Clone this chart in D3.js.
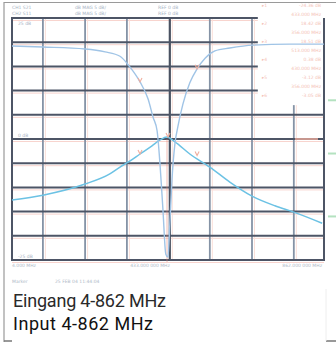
<!doctype html>
<html>
  <head>
    <script src="https://cdnjs.cloudflare.com/ajax/libs/d3/7.8.5/d3.min.js"></script>
    <style>
      body { margin: 0; background: #fff; }
      svg { display: block; }
    </style>
  </head>
  <body>
    <svg id="chart" width="336" height="344"></svg>
    <script>
        // S21 (notch) trace
        var s21Freq = [4, 89, 205, 260, 301, 328, 356, 378, 392, 403, 411, 419, 427, 433, 438, 444, 452, 460, 474, 493, 513, 535, 562, 603, 667, 768, 862];
        var s21Db   = [19.2, 19.0, 18.6, 18.0, 17.1, 14.9, 11.8, 8.3, 4.5, 1.7, -5.2, -14.5, -23.8, -24.4, -17.6, -8.3, -1.0, 2.5, 7.2, 11.6, 14.5, 16.7, 18.2, 18.8, 19.4, 19.6, 19.6];

        // S11 / peak trace
        var s11Freq = [4, 89, 205, 273, 301, 323, 356, 389, 411, 430, 452, 493, 548, 603, 664, 727, 779, 857];
        var s11Db   = [-12.6, -11.6, -9.3, -7.2, -5.8, -4.8, -3.1, -1.4, -0.2, 0.4, -0.6, -3.1, -5.8, -8.9, -11.8, -13.8, -15.1, -17.4];

        var xGridMHz = [89, 205, 320, 438, 548, 664, 779];
        var yGridDb = [20, 15, 10, 5, 0, -5, -10, -15, -20];
        var yLabels = [[25, "25 dB"], [0, "0 dB"], [-25, "-25 dB"]];
        var headerLeft = ["CH1  S21", "CH2  S11"];
        var headerMid = ["dB   MAG  5 dB/", "dB   MAG  5 dB/"];
        var headerRef = ["REF  0 dB", "REF  0 dB"];
        var freqLabels = ["4.000 MHz", "433.000 000 MHz", "862.000 000 MHz"];
        var footerLabels = ["Marker", "25 FEB 04   11:44:04"];
        var markerRows = ["-24.36 dB", "433.000 MHz", "18.42 dB", "356.000 MHz", "18.51 dB", "513.000 MHz", "0.38 dB", "430.000 MHz", "-3.12 dB", "356.000 MHz", "-3.05 dB"];
        var captionLines = ["Eingang 4-862 MHz", "Input 4-862 MHz"];

        var svg = d3.select("#chart");

        var xScale = d3.scaleLinear().domain([4, 862]).range([12, 324]);
        var yScale = d3.scaleLinear().domain([-25, 25]).range([260, 18]);

        // outer frame
        svg.append("path")
            .attr("d", "M4,342 V2.5 H336")
            .style("fill", "none").style("stroke", "#9a9a9a").style("stroke-width", 1.2);
        svg.append("line").attr("x1", 4).attr("x2", 336).attr("y1", 341).attr("y2", 341)
            .style("stroke", "#777").style("stroke-width", 1.5);

        var grid = svg.append("g");
        var tableEdge = xScale(680);

        // faint pink misregistration shadows
        grid.selectAll(".hpink").data(yGridDb.concat([25, -25])).enter().append("line")
            .attr("x1", 12).attr("x2", d => d >= 10 ? tableEdge : 324)
            .attr("y1", d => yScale(d) + 2.5).attr("y2", d => yScale(d) + 2.5)
            .style("stroke", "#f8d4ce").style("stroke-width", 1);
        grid.selectAll(".vpink").data(xGridMHz).enter().append("line")
            .attr("x1", d => xScale(d) + 2.5).attr("x2", d => xScale(d) + 2.5)
            .attr("y1", d => d > 700 ? yScale(7) : 18).attr("y2", 260)
            .style("stroke", "#fae0da").style("stroke-width", 1);

        // vertical divisions
        grid.selectAll(".vline").data(xGridMHz).enter().append("line")
            .attr("x1", d => xScale(d)).attr("x2", d => xScale(d))
            .attr("y1", d => d > 700 ? yScale(7) : 18).attr("y2", 260)
            .style("stroke", d => d === 438 ? "#4a5262" : "#8593a6")
            .style("stroke-width", d => d === 438 ? 2.2 : 1.8);

        // horizontal divisions
        grid.selectAll(".hline").data(yGridDb).enter().append("line")
            .attr("x1", 12).attr("x2", d => d >= 10 ? tableEdge : 324)
            .attr("y1", d => yScale(d)).attr("y2", d => yScale(d))
            .style("stroke", "#4d5566").style("stroke-width", 2);

        // graticule border
        grid.append("path")
            .attr("d", "M" + tableEdge + "," + yScale(25) + " H12 V" + yScale(-25) + " H324 V" + yScale(25))
            .style("fill", "none").style("stroke", "#4d5566").style("stroke-width", 2);

        // red centre line + reference mark
        svg.append("line").attr("x1", xScale(433) - 1).attr("x2", xScale(433) - 1)
            .attr("y1", yScale(0)).attr("y2", 262)
            .style("stroke", "#e88070").style("stroke-width", 1).style("opacity", 0.5);
        svg.append("line").attr("x1", 295).attr("x2", 318).attr("y1", yScale(0)).attr("y2", yScale(0))
            .style("stroke", "#f0ae9e").style("stroke-width", 1.5);

        // green reference markers at the right edge
        svg.selectAll(".ref").data([8, -3, -16]).enter().append("line")
            .attr("x1", 328).attr("x2", 336)
            .attr("y1", d => yScale(d)).attr("y2", d => yScale(d))
            .style("stroke", "#b4e2c0").style("stroke-width", 2);

        var line = d3.line().x(d => xScale(d[0])).y(d => yScale(d[1])).curve(d3.curveMonotoneX);

        svg.append("path")
            .attr("d", line(d3.zip(s11Freq, s11Db)))
            .style("fill", "none").style("stroke", "#6cc2e4").style("stroke-width", 1.5);

        svg.append("path")
            .attr("d", line(d3.zip(s21Freq, s21Db)))
            .style("fill", "none").style("stroke", "#a0c4e6").style("stroke-width", 1.4);

        // marker symbols
        var markers = [[356, 11.8], [513, 14.5], [356, -3.1], [513, -3.4], [433, 0.4]];
        svg.selectAll(".mk").data(markers).enter().append("path")
            .attr("d", d => "M" + (xScale(d[0]) - 2) + "," + (yScale(d[1]) - 4) + " l2,4 l2,-4")
            .style("fill", "none").style("stroke", "#f0ae9e").style("stroke-width", 1.1);

        // small screen text
        var tiny = "font-family: 'DejaVu Sans', sans-serif; font-size: 4.5px;";
        var hdr = svg.append("g").attr("style", tiny).style("fill", "#a8b4c4");
        headerLeft.forEach((t, i) => hdr.append("text").attr("x", 12).attr("y", 9 + i * 6).text(t));
        headerMid.forEach((t, i) => hdr.append("text").attr("x", 75).attr("y", 9 + i * 6).text(t));
        headerRef.forEach((t, i) => hdr.append("text").attr("x", 158).attr("y", 9 + i * 6).text(t));

        var yl = svg.append("g").attr("style", tiny).style("fill", "#a8b4c4");
        yLabels.forEach(d => yl.append("text")
            .attr("x", 18).attr("y", yScale(d[0]) + (d[0] === 25 ? 7 : -2)).text(d[1]));

        var fl = svg.append("g").attr("style", tiny).style("fill", "#b0bac8");
        fl.append("text").attr("x", 12).attr("y", 267).text(freqLabels[0]);
        fl.append("text").attr("x", 150).attr("y", 267).attr("text-anchor", "middle").text(freqLabels[1]);
        fl.append("text").attr("x", 322).attr("y", 267).attr("text-anchor", "end").text(freqLabels[2]);
        fl.append("text").attr("x", 12).attr("y", 283).text(footerLabels[0]);
        fl.append("text").attr("x", 55).attr("y", 283).text(footerLabels[1]);

        var mt = svg.append("g").attr("style", tiny).style("fill", "#f4c2b6");
        markerRows.forEach((t, i) => {
            mt.append("text").attr("x", 321).attr("y", 7 + i * 9).attr("text-anchor", "end").text(t);
            if (i % 2 === 0) mt.append("text").attr("x", 262).attr("y", 7 + i * 9).text("▸" + (i / 2 + 1));
        });

        // caption box
        svg.append("rect").attr("x", 12).attr("y", 289).attr("width", 314).attr("height", 55).style("fill", "#fff");
        svg.append("line").attr("x1", 326).attr("x2", 326).attr("y1", 289).attr("y2", 341)
            .style("stroke", "#eee").style("stroke-width", 1);
        var cap = svg.append("g").style("font-family", "'Liberation Sans Narrow', 'Roboto', sans-serif").style("font-size", "18px");
        cap.append("text").attr("x", 13).attr("y", 307).attr("textLength", 153).style("fill", "#2a2a2a").text(captionLines[0]);
        cap.append("text").attr("x", 13).attr("y", 330).attr("textLength", 140).style("fill", "#111").text(captionLines[1]);
    </script>
  </body>
</html>
